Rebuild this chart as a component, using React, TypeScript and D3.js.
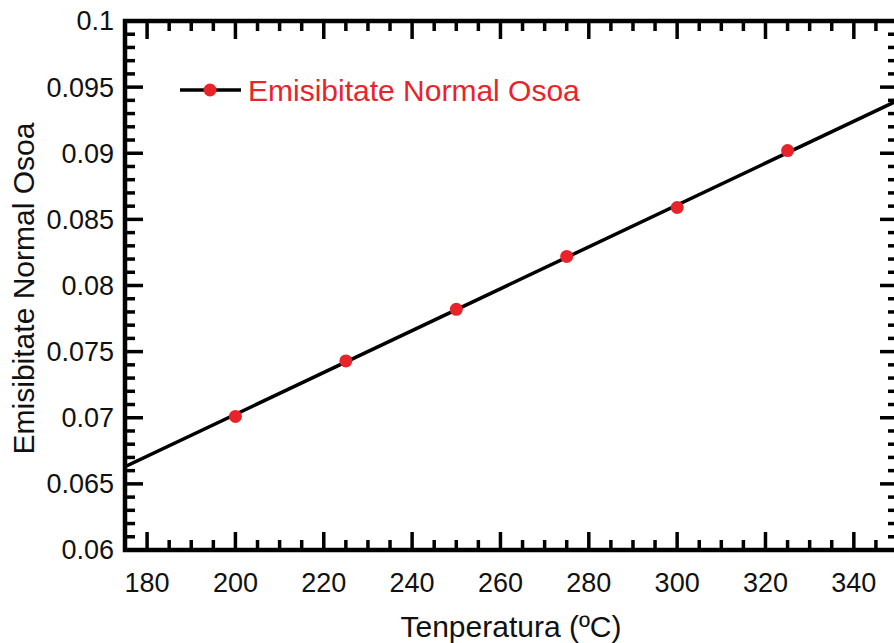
import React from "react";
import * as d3 from "d3";

const width = 894;
const height = 643;
// plot frame (right edge runs just past the window, as in the source)
const margin = { top: 21, right: -4, bottom: 93, left: 125 };

const temps = [200, 225, 250, 275, 300, 325];
const emissivity = [0.0701, 0.0743, 0.0782, 0.0822, 0.0859, 0.0902];
const fitX = [175, 350];
const fitY = [0.0663, 0.094];
const xTicks = [180, 200, 220, 240, 260, 280, 300, 320, 340];
const yTicks = [0.06, 0.065, 0.07, 0.075, 0.08, 0.085, 0.09, 0.095, 0.1];
const seriesName = "Emisibitate Normal Osoa";
const xTitle = "Tenperatura (ºC)";
const yTitle = "Emisibitate Normal Osoa";

const font = "'Liberation Sans', Arial, sans-serif";

export default function App() {
  const x = d3
    .scaleLinear()
    .domain([175, 350])
    .range([margin.left, width - margin.right]);
  const y = d3
    .scaleLinear()
    .domain([0.06, 0.1])
    .range([height - margin.bottom, margin.top]);

  const x0 = x.range()[0];
  const x1 = x.range()[1];
  const y0 = y.range()[0];
  const y1 = y.range()[1];

  const xMinor = d3.range(175, 351, 5).filter(v => v % 20 !== 0);
  const yMinor = d3.range(60, 101, 1).map(v => v / 1000).filter(v => Math.round(v * 1000) % 5 !== 0);

  const line = d3
    .line<number>()
    .x((d, i) => x(fitX[i]))
    .y(d => y(d));

  const major = 18;
  const minor = 10;
  const stroke = "#000";

  return (
    <svg
      width={width}
      height={height}
      style={{ position: "absolute", left: 0, top: 0, background: "#fff" }}
    >
      <defs>
        <clipPath id="plot">
          <rect x={x0} y={y1} width={x1 - x0} height={y0 - y1} />
        </clipPath>
      </defs>

      {/* ticks, inward on all four sides */}
      <g stroke={stroke} strokeWidth={3.5}>
        {xTicks.map(t => (
          <g key={"xt" + t}>
            <line x1={x(t)} x2={x(t)} y1={y0} y2={y0 - major} />
            <line x1={x(t)} x2={x(t)} y1={y1} y2={y1 + major} />
          </g>
        ))}
        {xMinor.map(t => (
          <g key={"xm" + t}>
            <line x1={x(t)} x2={x(t)} y1={y0} y2={y0 - minor} />
            <line x1={x(t)} x2={x(t)} y1={y1} y2={y1 + minor} />
          </g>
        ))}
        {yTicks.map(t => (
          <g key={"yt" + t}>
            <line x1={x0} x2={x0 + major} y1={y(t)} y2={y(t)} />
            <line x1={x1} x2={x1 - major} y1={y(t)} y2={y(t)} />
          </g>
        ))}
        {yMinor.map(t => (
          <g key={"ym" + t}>
            <line x1={x0} x2={x0 + minor} y1={y(t)} y2={y(t)} />
            <line x1={x1} x2={x1 - minor} y1={y(t)} y2={y(t)} />
          </g>
        ))}
      </g>

      <rect
        x={x0}
        y={y1}
        width={x1 - x0}
        height={y0 - y1}
        fill="none"
        stroke={stroke}
        strokeWidth={4.5}
      />

      {/* tick labels */}
      <g fontFamily={font} fontSize={27} fill="#111">
        {xTicks.map(t => (
          <text key={"xl" + t} x={x(t)} y={y0 + 42} textAnchor="middle">
            {t}
          </text>
        ))}
        {yTicks.map(t => (
          <text key={"yl" + t} x={x0 - 11} y={y(t)} dy="0.35em" textAnchor="end">
            {String(t)}
          </text>
        ))}
      </g>

      {/* fit line and measured points */}
      <path
        d={line(fitY) || ""}
        fill="none"
        stroke="#000"
        strokeWidth={3.5}
        clipPath="url(#plot)"
      />
      {temps.map((t, i) => (
        <circle key={"p" + t} cx={x(t)} cy={y(emissivity[i])} r={6.5} fill="#e8242a" />
      ))}

      {/* legend */}
      <line x1={180} x2={241} y1={90} y2={90} stroke="#000" strokeWidth={3.5} />
      <circle cx={210} cy={90} r={6.5} fill="#e8242a" />
      <text x={248} y={101} fontFamily={font} fontSize={30} fill="#e8242a">
        {seriesName}
      </text>

      {/* axis titles */}
      <text
        x={511}
        y={637}
        textAnchor="middle"
        fontFamily={font}
        fontSize={30}
        fill="#111"
      >
        {xTitle}
      </text>
      <text
        transform={`translate(34, ${(y0 + y1) / 2 + 3}) rotate(-90)`}
        textAnchor="middle"
        fontFamily={font}
        fontSize={30}
        fill="#111"
      >
        {yTitle}
      </text>
    </svg>
  );
}
